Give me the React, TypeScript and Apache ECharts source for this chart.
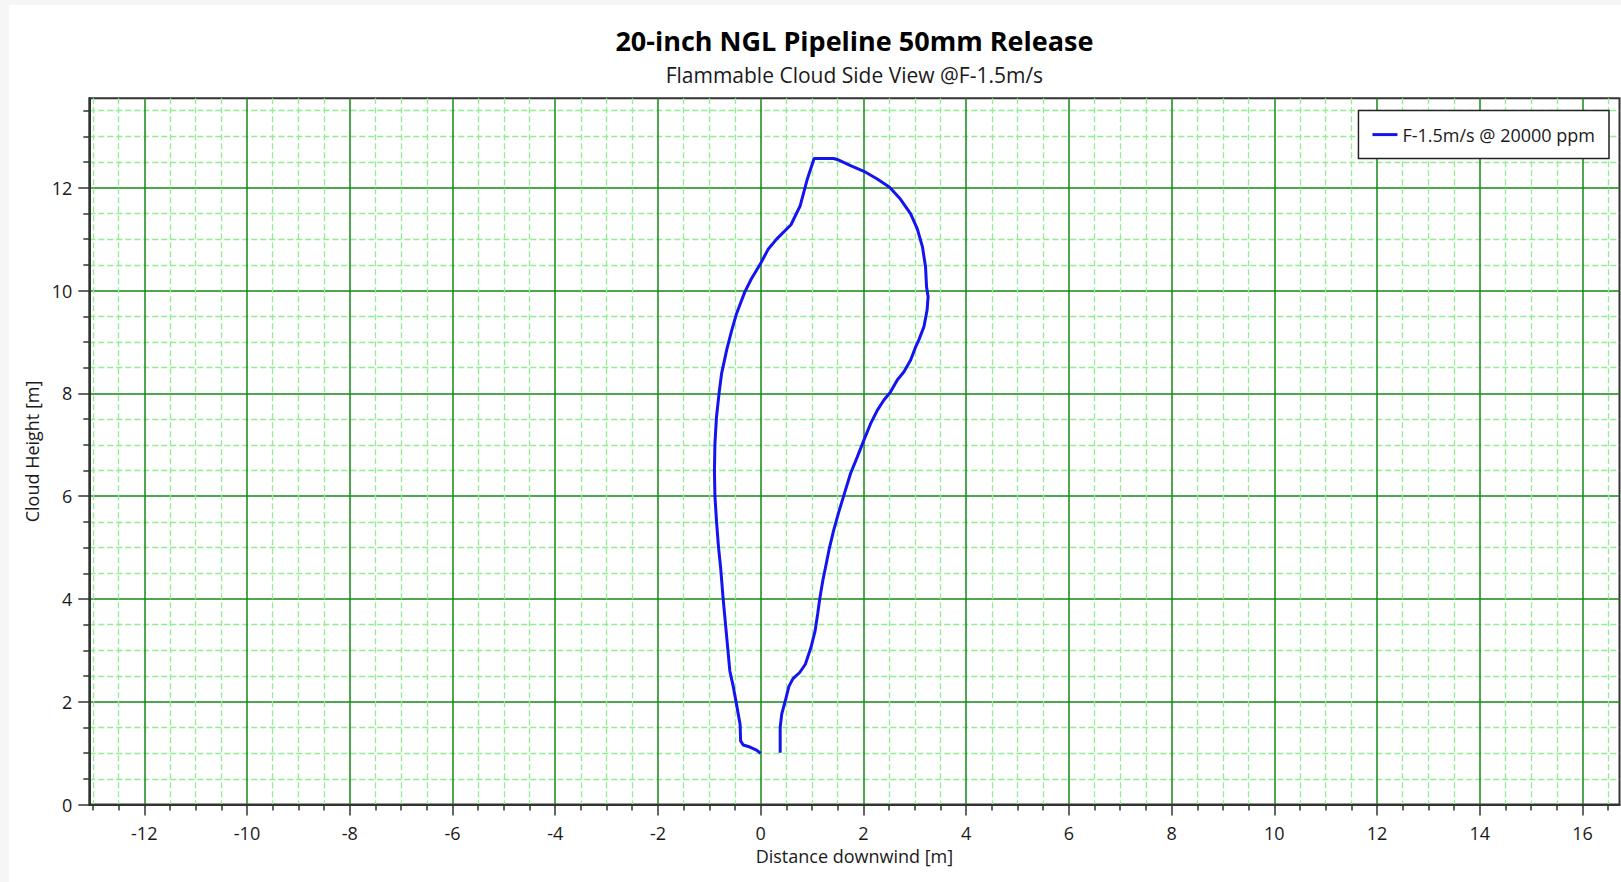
import React, { useEffect, useRef } from "react";
import * as echarts from "echarts";

const TITLE = "20-inch NGL Pipeline 50mm Release";
const SUBTITLE = "Flammable Cloud Side View @F-1.5m/s";
const X_AXIS_NAME = "Distance downwind [m]";
const Y_AXIS_NAME = "Cloud Height [m]";
const SERIES_NAME = "F-1.5m/s @ 20000 ppm";

const X_MIN = -13.07;
const X_MAX = 16.72;
const Y_MIN = 0;
const Y_MAX = 13.74;

const X_TICKS = [-12, -10, -8, -6, -4, -2, 0, 2, 4, 6, 8, 10, 12, 14, 16];
const Y_TICKS = [0, 2, 4, 6, 8, 10, 12];

// Cloud outline, traced from (0,1) up the upwind edge, over the top and down the downwind edge
const CLOUD_X = [
  0.0, -0.08, -0.21, -0.34, -0.39, -0.4, -0.47, -0.53, -0.6, -0.66, -0.73, -0.78, -0.82, -0.86,
  -0.89, -0.9, -0.89, -0.86, -0.81, -0.76, -0.66, -0.57, -0.47, -0.31, -0.18, -0.01, 0.15, 0.31,
  0.59, 0.77, 0.9, 1.04, 1.42, 1.49, 1.75, 2.01, 2.27, 2.51, 2.72, 2.92, 3.05, 3.15, 3.21, 3.23,
  3.26, 3.24, 3.18, 3.08, 3.02, 2.92, 2.79, 2.66, 2.53, 2.4, 2.27, 2.14, 2.01, 1.88, 1.75, 1.63,
  1.52, 1.42, 1.34, 1.28, 1.21, 1.15, 1.11, 1.06, 0.98, 0.87, 0.76, 0.63, 0.55, 0.48, 0.41, 0.38,
  0.38, 0.38,
];
const CLOUD_Y = [
  1.0, 1.06, 1.12, 1.16, 1.24, 1.56, 1.95, 2.28, 2.6, 3.25, 4.0, 4.62, 5.0, 5.52,
  6.0, 6.5, 7.02, 7.54, 8.0, 8.39, 8.85, 9.2, 9.55, 9.97, 10.23, 10.51, 10.81, 11.0,
  11.28, 11.65, 12.14, 12.57, 12.57, 12.55, 12.43, 12.32, 12.17, 12.01, 11.78, 11.49, 11.2, 10.85, 10.46, 10.07,
  9.88, 9.62, 9.3, 9.04, 8.91, 8.65, 8.42, 8.26, 8.03, 7.87, 7.67, 7.41, 7.09, 6.76, 6.44, 6.05,
  5.69, 5.33, 5.0, 4.7, 4.36, 4.0, 3.71, 3.38, 3.06, 2.73, 2.57, 2.45, 2.3, 2.02, 1.76, 1.5,
  1.24, 1.01,
];

const FONT = "'Open Sans', 'Noto Sans', sans-serif";
const AXIS_COLOR = "#333333";
const MAJOR_GRID = "#148814";
const MINOR_GRID = "#90ee90";
const LINE_COLOR = "#1414f0";
const TEXT_COLOR = "#1a1a1a";

export default function App() {
  const ref = useRef<HTMLDivElement>(null);

  useEffect(() => {
    if (!ref.current) return;
    const chart = echarts.init(ref.current, null, { renderer: "svg" });
    const gridLeft = 89.3;
    const gridTop = 98.3;
    const gridWidth = 1530.2;
    const gridHeight = 706.3;
    const centerX = gridLeft + gridWidth / 2;

    const commonAxis = (isX: boolean) => ({
      type: "value",
      axisLine: { show: true, onZero: false, lineStyle: { color: AXIS_COLOR, width: 2 } },
      axisTick: {
        show: true,
        length: 11,
        customValues: isX ? X_TICKS : Y_TICKS,
        lineStyle: { color: AXIS_COLOR, width: 1.5 },
      },
      minorTick: { show: true, splitNumber: 4, length: 6, lineStyle: { color: AXIS_COLOR, width: 1.5 } },
      splitLine: { show: true, lineStyle: { color: MAJOR_GRID, width: 1.5 } },
      minorSplitLine: { show: true, lineStyle: { color: MINOR_GRID, width: 1.3, type: [6, 3] } },
      axisLabel: {
        show: true,
        color: TEXT_COLOR,
        fontFamily: FONT,
        fontSize: 18,
        margin: isX ? 19 : 17,
        customValues: isX ? X_TICKS : Y_TICKS,
      },
      nameLocation: "middle",
      nameTextStyle: { color: TEXT_COLOR, fontFamily: FONT, fontSize: 18 },
    });

    chart.setOption({
      animation: false,
      backgroundColor: "transparent",
      grid: {
        left: gridLeft,
        top: gridTop,
        width: gridWidth,
        height: gridHeight,
        show: true,
        borderColor: AXIS_COLOR,
        borderWidth: 2,
        backgroundColor: "transparent",
        containLabel: false,
        outerBoundsMode: "none",
      },
      xAxis: {
        ...commonAxis(true),
        min: X_MIN,
        max: X_MAX,
        splitNumber: 15,
        name: X_AXIS_NAME,
        nameGap: 42,
      },
      yAxis: {
        ...commonAxis(false),
        min: Y_MIN,
        max: Y_MAX,
        splitNumber: 7,
        name: Y_AXIS_NAME,
        nameGap: 39,
      },
      legend: {
        show: true,
        right: 12,
        top: 110.6,
        orient: "vertical",
        backgroundColor: "#ffffff",
        borderColor: "#222222",
        borderWidth: 1.5,
        borderRadius: 0,
        padding: [15, 14, 15, 14],
        icon: "rect",
        itemWidth: 25,
        itemHeight: 3,
        textStyle: { color: TEXT_COLOR, fontFamily: FONT, fontSize: 18 },
        data: [SERIES_NAME],
      },
      graphic: [
        {
          type: "text",
          x: centerX,
          y: 40,
          style: {
            text: TITLE,
            fill: "#000",
            font: `bold 27px ${FONT}`,
            textAlign: "center",
            textVerticalAlign: "middle",
          },
        },
        {
          type: "text",
          x: centerX,
          y: 75,
          style: {
            text: SUBTITLE,
            fill: TEXT_COLOR,
            font: `21px ${FONT}`,
            textAlign: "center",
            textVerticalAlign: "middle",
          },
        },
      ],
      series: [
        {
          name: SERIES_NAME,
          type: "line",
          data: CLOUD_X.map((x, i) => [x, CLOUD_Y[i]]),
          showSymbol: false,
          symbol: "none",
          smooth: false,
          clip: true,
          color: LINE_COLOR,
          itemStyle: { color: LINE_COLOR },
          lineStyle: { color: LINE_COLOR, width: 3 },
        },
      ],
    });
    return () => chart.dispose();
  }, []);

  return (
    <div style={{ position: "fixed", left: 0, top: 0, width: 1621, height: 882, background: "#f6f6f6" }}>
      <div style={{ position: "absolute", left: 9, top: 5, right: 0, bottom: 0, background: "#ffffff" }} />
      <div ref={ref} style={{ position: "absolute", left: 0, top: 0, width: 1621, height: 882 }} />
    </div>
  );
}
